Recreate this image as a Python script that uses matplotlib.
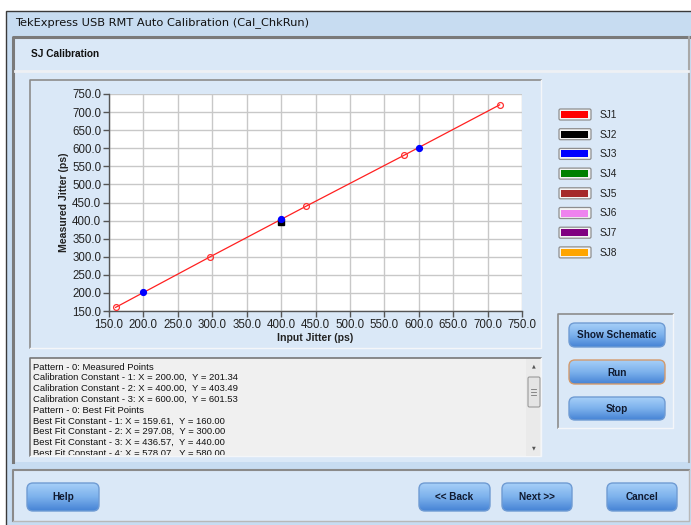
import numpy as np
import matplotlib
matplotlib.use("Agg")
import matplotlib.pyplot as plt
from matplotlib.patches import Rectangle, FancyBboxPatch
from matplotlib.colors import LinearSegmentedColormap
from matplotlib.transforms import Bbox, TransformedBbox

# measured calibration points (input jitter, measured jitter)
meas_x = [200.00, 400.00, 600.00]
meas_y = [201.34, 403.49, 601.53]
# best fit points
fit_x = [159.61, 297.08, 436.57, 578.07, 717.56]
fit_y = [160.00, 300.00, 440.00, 580.00, 720.00]
# SJ2 point
sj2_x = [400.0]
sj2_y = [397.0]

ticks = [150.0, 200.0, 250.0, 300.0, 350.0, 400.0, 450.0, 500.0,
         550.0, 600.0, 650.0, 700.0, 750.0]

legend_names = ["SJ1", "SJ2", "SJ3", "SJ4", "SJ5", "SJ6", "SJ7", "SJ8"]
legend_colors = ["#ff0000", "#000000", "#0000ff", "#008000",
                 "#a52a2a", "#ee82ee", "#800080", "#ffa500"]

W, H = 691, 525
PANEL = "#dae8f7"
FONT = ["Liberation Sans", "DejaVu Sans"]
BTNFONT = ["Liberation Sans Narrow", "Liberation Sans", "DejaVu Sans"]

fig = plt.figure(figsize=(W / 100, H / 100), dpi=100)
fig.patch.set_facecolor("white")

ui = fig.add_axes([0, 0, 1, 1], zorder=0)
ui.set_xlim(0, W)
ui.set_ylim(H, 0)
ui.axis("off")


def box(x0, y0, x1, y1, fc, ec="none", lw=1.0, z=1):
    ui.add_patch(Rectangle((x0, y0), x1 - x0, y1 - y0, facecolor=fc,
                           edgecolor=ec, linewidth=lw, zorder=z))


def sunken(x0, y0, x1, y1, fc, dark="#8c8c8c", light="#f4f6f9", z=2):
    box(x0, y0, x1, y1, fc, z=z)
    ui.plot([x0, x0, x1], [y1, y0, y0], color=dark, lw=1.2, zorder=z + 0.1)
    ui.plot([x0, x1, x1], [y1, y1, y0], color=light, lw=1.0, zorder=z + 0.1)


grad = LinearSegmentedColormap.from_list("btn", ["#a6cff8", "#7cb1ec", "#4683d5"])


def button(x0, y0, x1, y1, label, edge="#6f9bd3"):
    p = FancyBboxPatch((x0, y0), x1 - x0, y1 - y0,
                       boxstyle="round,pad=0,rounding_size=6",
                       facecolor="none", edgecolor=edge, linewidth=1.0, zorder=6)
    ui.add_patch(p)
    g = np.linspace(0, 1, 64).reshape(-1, 1)
    im = ui.imshow(g, cmap=grad, extent=(x0, x1, y1, y0), aspect="auto",
                   zorder=5, interpolation="bilinear")
    im.set_clip_path(p)
    ui.text((x0 + x1) / 2, (y0 + y1) / 2 + 0.5, label, ha="center", va="center",
            fontsize=7.2, fontweight="bold", color="#101a30", family=BTNFONT,
            zorder=7)


# window frame and title bar
box(6, 11, W + 2, H + 2, "#c7dcf1", ec="#3a3a3a", lw=1.0, z=0.5)
ui.text(15, 23, "TekExpress USB RMT Auto Calibration (Cal_ChkRun)",
        fontsize=8.2, va="center", ha="left", color="#111111",
        family=["DejaVu Sans"], zorder=3)

# main panel
box(13, 37, 689, 462, PANEL, z=1)
ui.plot([13, 13, 689], [462, 37, 37], color="#7a7a7a", lw=2.2, zorder=1.5)
ui.plot([689, 689], [37, 462], color="#a8a8a8", lw=1.5, zorder=1.5)
ui.plot([15, 688], [70.5, 70.5], color="#eef0f4", lw=2.0, zorder=1.5)
ui.text(31, 54, "SJ Calibration", fontsize=7.3, fontweight="bold",
        va="center", ha="left", color="#111111", family=FONT, zorder=3)

# bottom panel
box(13, 470, 689, 521, PANEL, z=1)
ui.plot([13, 13, 689], [521, 470, 470], color="#8a8a8a", lw=1.5, zorder=1.5)
ui.plot([689, 689, 13], [470, 521, 521], color="#b8b8b8", lw=1.0, zorder=1.5)

# chart frame
sunken(30, 80, 541, 348, PANEL)

# button group
sunken(558, 314, 673, 428, PANEL)

# text box with scrollbar
sunken(30, 358, 541, 456, "#f0f0f0", dark="#777777")
box(526, 359, 540.5, 455.5, "#eaeaea", z=2.5)
ui.text(533.5, 366, "\u25b2", fontsize=3.5, ha="center", va="center",
        color="#555555", zorder=3)
ui.text(533.5, 448, "\u25bc", fontsize=3.5, ha="center", va="center",
        color="#555555", zorder=3)
ui.add_patch(FancyBboxPatch((528, 377), 12, 30,
                            boxstyle="round,pad=0,rounding_size=1.5",
                            facecolor="#e4e4e4", edgecolor="#9a9a9a",
                            linewidth=0.8, zorder=3))
for yy in (389, 392, 395):
    ui.plot([531.5, 536.5], [yy, yy], color="#777777", lw=0.6, zorder=3.5)

lines = ["Pattern - 0: Measured Points"]
for i, (x, y) in enumerate(zip(meas_x, meas_y), 1):
    lines.append(f"Calibration Constant - {i}: X = {x:.2f},  Y = {y:.2f}")
lines.append("Pattern - 0: Best Fit Points")
for i, (x, y) in enumerate(zip(fit_x, fit_y), 1):
    lines.append(f"Best Fit Constant - {i}: X = {x:.2f},  Y = {y:.2f}")

clip = TransformedBbox(Bbox.from_extents(31, 359.5, 525, 455), ui.transData)
for i, s in enumerate(lines):
    t = ui.text(33, 367 + i * 10.8, s, fontsize=6.8, va="center", ha="left",
                color="#111111", family=FONT, zorder=3)
    t.set_clip_on(True)
    t.set_clip_path(None)
    t.set_clip_box(clip)

# legend swatches
for i, (name, c) in enumerate(zip(legend_names, legend_colors)):
    yc = 114.5 + i * 19.7
    ui.add_patch(FancyBboxPatch((559, yc - 5.5), 32, 11,
                                boxstyle="round,pad=0,rounding_size=1.5",
                                facecolor="#f4f4f4", edgecolor="#8e8e8e",
                                linewidth=0.9, zorder=3))
    box(561.5, yc - 3.5, 588.5, yc + 3.5, c, z=4)
    ui.text(600, yc + 0.5, name, fontsize=7.3, va="center", ha="left",
            color="#222222", family=FONT, zorder=3)

# buttons
button(569, 323, 665, 347, "Show Schematic")
button(569, 360, 665, 384, "Run", edge="#d39a6c")
button(569, 397, 665, 420, "Stop")
button(27, 483, 99, 511, "Help")
button(419, 483, 490, 511, "<< Back")
button(502, 483, 572, 511, "Next >>")
button(607, 483, 677, 511, "Cancel")

# calibration chart
ax = fig.add_axes([109 / W, 1 - 311 / H, (522 - 109) / W, (311 - 94) / H],
                  zorder=2)
ax.set_facecolor("white")
ax.set_xlim(150, 750)
ax.set_ylim(150, 750)
ax.set_xticks(ticks)
ax.set_yticks(ticks)
ax.set_xticklabels([f"{t:.1f}" for t in ticks], family=FONT, fontsize=8.3,
                   color="#222222")
ax.set_yticklabels([f"{t:.1f}" for t in ticks], family=FONT, fontsize=8.3,
                   color="#222222")
ax.grid(True, color="#c8c8c8", lw=1.0)
ax.set_axisbelow(True)
for side in ("top", "right"):
    ax.spines[side].set_visible(False)
for side in ("left", "bottom"):
    ax.spines[side].set_color("#555555")
    ax.spines[side].set_linewidth(1.0)
ax.tick_params(length=4, width=1, color="#555555", pad=1.5)
ax.set_xlabel("Input Jitter (ps)", fontsize=7.6, fontweight="bold",
              family=FONT, color="#222222", labelpad=2)
ax.set_ylabel("Measured Jitter (ps)", fontsize=7.6, fontweight="bold",
              family=FONT, color="#222222", labelpad=2)

ax.plot(fit_x, fit_y, color="#ff2020", lw=0.9, marker="o", ms=4.2,
        mfc="none", mec="#ff3030", mew=0.9, clip_on=False, zorder=3)
ax.plot(sj2_x, sj2_y, ls="none", marker="s", ms=4.2, color="black",
        zorder=4)
ax.plot(meas_x, meas_y, ls="none", marker="o", ms=4.2, color="#0000ff",
        zorder=5)

fig.savefig("out.png", dpi=100)
